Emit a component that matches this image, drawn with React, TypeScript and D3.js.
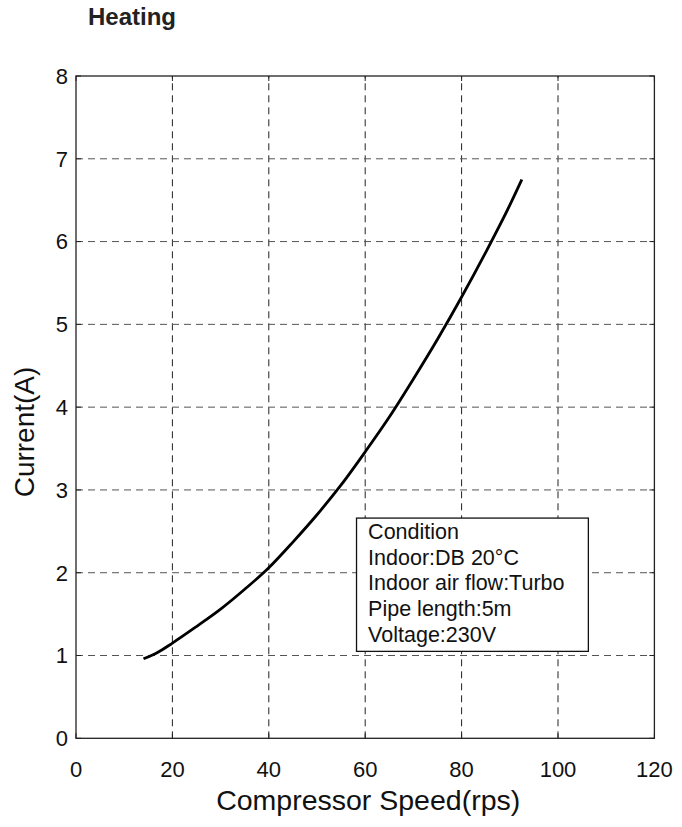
import * as d3 from "d3";

const speed = [14, 17, 20, 25, 30, 35, 40, 45, 50, 55, 60, 65, 70, 75, 80, 85, 90, 92.5];
const current = [0.96, 1.04, 1.15, 1.35, 1.56, 1.8, 2.06, 2.37, 2.7, 3.06, 3.46, 3.88, 4.34, 4.82, 5.33, 5.87, 6.44, 6.75];
const xTicks = [0, 20, 40, 60, 80, 100, 120];
const yTicks = [0, 1, 2, 3, 4, 5, 6, 7, 8];
const conditionLines = [
  "Condition",
  "Indoor:DB 20°C",
  "Indoor air flow:Turbo",
  "Pipe length:5m",
  "Voltage:230V",
];

const width = 682;
const height = 827;
const marginLeft = 76;
const marginRight = 27.6;
const marginTop = 76;
const marginBottom = 88.7;
const font = "'Liberation Sans', Arial, Helvetica, sans-serif";

const App = () => {
  const x = d3.scaleLinear([0, 120], [marginLeft, width - marginRight]);
  const y = d3.scaleLinear([0, 8], [height - marginBottom, marginTop]);
  const data = speed.map((s, i) => ({ s, c: current[i] }));
  const line = d3
    .line<{ s: number; c: number }>()
    .x((d) => x(d.s))
    .y((d) => y(d.c))
    .curve(d3.curveMonotoneX);

  const x0 = x(0);
  const x1 = x(120);
  const y0 = y(0);
  const y1 = y(8);

  // legend box, placed in data space
  const bx = x(58.2);
  const by = y(2.66);
  const bw = x(106.3) - bx;
  const bh = y(1.05) - by;

  return (
    <svg
      width={width}
      height={height}
      style={{ position: "absolute", left: 0, top: 0, background: "#fff" }}
      fontFamily={font}
    >
      <text x={88} y={25} fontSize={24} fontWeight="bold" fill="#222">
        Heating
      </text>

      {/* grid */}
      {xTicks.slice(1, -1).map((t) => (
        <line
          key={"gx" + t}
          x1={x(t)}
          x2={x(t)}
          y1={y0}
          y2={y1}
          stroke="#222"
          strokeWidth={1}
          strokeDasharray="7,5"
        />
      ))}
      {yTicks.slice(1, -1).map((t) => (
        <line
          key={"gy" + t}
          x1={x0}
          x2={x1}
          y1={y(t)}
          y2={y(t)}
          stroke="#555"
          strokeWidth={1}
          strokeDasharray="7,5"
        />
      ))}

      {/* ticks */}
      {xTicks.map((t) => (
        <g key={"tx" + t}>
          <line x1={x(t)} x2={x(t)} y1={y0} y2={y0 - 5} stroke="#222" />
          <line x1={x(t)} x2={x(t)} y1={y1} y2={y1 + 5} stroke="#222" />
          <text x={x(t)} y={777} fontSize={22} textAnchor="middle" fill="#111">
            {t}
          </text>
        </g>
      ))}
      {yTicks.map((t) => (
        <g key={"ty" + t}>
          <line x1={x0} x2={x0 + 5} y1={y(t)} y2={y(t)} stroke="#222" />
          <line x1={x1} x2={x1 - 5} y1={y(t)} y2={y(t)} stroke="#222" />
          <text x={68} y={y(t)} dy="0.36em" fontSize={22} textAnchor="end" fill="#111">
            {t}
          </text>
        </g>
      ))}

      <rect
        x={x0}
        y={y1}
        width={x1 - x0}
        height={y0 - y1}
        fill="none"
        stroke="#222"
        strokeWidth={1.3}
      />

      <path d={line(data) ?? ""} fill="none" stroke="#000" strokeWidth={2.8} />

      <rect x={bx} y={by} width={bw} height={bh} fill="#fff" stroke="#111" strokeWidth={1.3} />
      {conditionLines.map((l, i) => (
        <text key={l} x={bx + 11.6} y={by + 21 + i * 25.7} fontSize={21.5} fill="#111">
          {l}
        </text>
      ))}

      <text x={(x0 + x1) / 2 + 3} y={810} fontSize={28.5} textAnchor="middle" fill="#111">
        Compressor Speed(rps)
      </text>
      <text
        transform="translate(33.5,432) rotate(-90)"
        fontSize={28}
        textAnchor="middle"
        fill="#111"
      >
        Current(A)
      </text>
    </svg>
  );
};

export default App;
